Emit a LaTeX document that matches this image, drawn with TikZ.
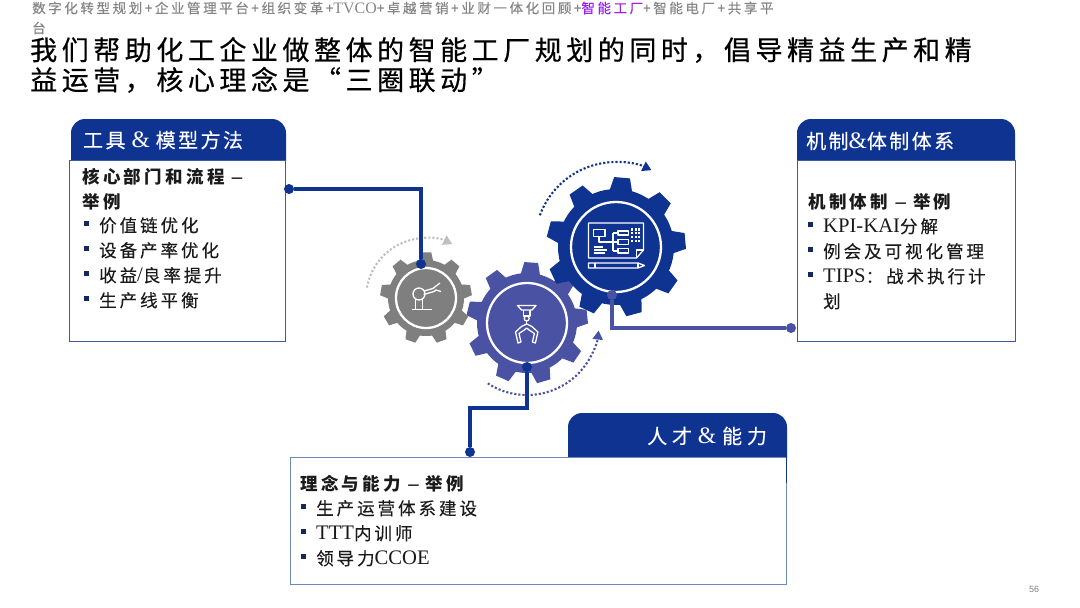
\documentclass[tikz,border=0pt]{standalone}
\usepackage{fontspec}
\usetikzlibrary{arrows.meta,positioning}
\setmainfont{Noto Sans CJK SC}
\newfontfamily\latf[Scale=1.18]{Liberation Serif}
\newfontfamily\numf{Liberation Sans}
\definecolor{navy}{HTML}{0F3391}
\definecolor{violet}{HTML}{4A52A3}
\definecolor{gearg}{HTML}{7F7F7F}
\definecolor{frameb}{HTML}{3B5C96}
\definecolor{framel}{HTML}{6F88BB}
\definecolor{crumbg}{HTML}{858585}
\definecolor{crumbp}{HTML}{9B1FE8}
\definecolor{inkb}{HTML}{1A1A1A}
\definecolor{bullb}{HTML}{14285F}
\newcommand{\bul}{\makebox[15pt][l]{\raisebox{5.5pt}{\textcolor{bullb}{\rule{5pt}{5pt}}}}}
\newcommand{\headtab}[4]{\fill[navy] (#1,#4) [rounded corners=14pt] -- (#1,#2) -- (#3,#2) [sharp corners] -- (#3,#4) -- cycle;}
\newcommand{\gearshape}[5]{%
  \fill[#1] (0,0) circle (#4pt);
  \foreach \k in {0,...,8} {
    \pgfmathsetmacro{\a}{#2+40*\k}
    \fill[#1] (\a-11.5:#4-1) -- (\a-6.5:#3) -- (\a+6.5:#3) -- (\a+11.5:#4-1) -- cycle;
  }
  \draw[white, line width=2.3pt] (0,0) circle (#5pt);
}
\begin{document}
\begin{tikzpicture}[
  x=1pt, y=1pt,
  box/.style={draw=frameb, fill=white, line width=0.9pt, anchor=north west, inner sep=0pt, outer sep=0pt},
  headtext/.style={text=white, anchor=west, inner sep=0pt, font=\fontsize{20}{24}\selectfont\addfontfeature{LetterSpace=12,FakeBold=0.3}},
  bodytext/.style={text=inkb, anchor=north west, inner sep=0pt, align=left, font=\fontsize{17.5}{25}\selectfont\addfontfeature{LetterSpace=17,FakeBold=0.15}},
  subtext/.style={bodytext, font=\fontsize{17.5}{25}\bfseries\selectfont\addfontfeature{LetterSpace=19}},
  dot/.style={circle, fill=#1, inner sep=0pt, minimum size=10pt},
  link/.style={line width=3.05pt, draw=navy},
  turn/.style={line width=2.1pt, dotted, -{Triangle[length=9pt,width=10pt]}},
  icon/.style={draw=white, line width=1.3pt, line join=round}
]
\useasboundingbox (0,0) rectangle (1080,-608);

\node[anchor=west, inner sep=0pt, text=crumbg, font=\fontsize{13.5}{16}\selectfont\addfontfeature{LetterSpace=19.2,FakeBold=0.3}] (crumb) at (32,-8)
  {数字化转型规划+企业管理平台+组织变革+{\latf TVCO}+卓越营销+业财一体化回顾+\textcolor{crumbp}{智能工厂}+智能电厂+共享平};
\node[anchor=west, inner sep=0pt, text=crumbg, font=\fontsize{13.5}{16}\selectfont\addfontfeature{FakeBold=0.3}] (crumbb) at (32,-28) {台};
\node[anchor=west, inner sep=0pt, align=left, text=black, font=\fontsize{27}{30}\selectfont\addfontfeature{LetterSpace=16.8,FakeBold=0.5}] (title) at (30,-65)
  {我们帮助化工企业做整体的智能工厂规划的同时，倡导精益生产和精\\益运营，核心理念是“三圈联动”};

\headtab{71}{-119}{286}{-161}
\node[box, minimum width=216pt, minimum height=181pt] (toolbox) at (69.5,-160) {};
\node[headtext] (toolhead) at (83,-140) {工具{\latf\ \&\ }模型方法};
\node[subtext] (toolsub) at (82,-168) {核心部门和流程 {\latf –}\\举例};
\node[bodytext] (toollist) at (84,-217) {\bul 价值链优化\\\bul 设备产率优化\\\bul 收益{\latf /}良率提升\\\bul 生产线平衡};

\headtab{797}{-119}{1015}{-162}
\node[box, minimum width=218pt, minimum height=181pt] (mechbox) at (797,-160.5) {};
\node[headtext] (mechhead) at (806,-141) {机制{\latf\&}体制体系};
\node[subtext] (mechsub) at (808,-193) {机制体制 {\latf –} 举例};
\node[bodytext] (mechlist) at (808,-218) {\bul {\latf KPI-KAI}分解\\\bul 例会及可视化管理\\\bul {\latf TIPS}：战术执行计\\\hspace*{15pt}划};

\headtab{568}{-413}{787}{-458}
\node[box, draw=framel, minimum width=496pt, minimum height=127pt] (talentbox) at (290,-457) {};
\draw[navy, line width=1pt] (786.5,-457) -- (786.5,-483);
\node[headtext, font=\fontsize{20}{24}\selectfont\addfontfeature{LetterSpace=24,FakeBold=0.3}] (talenthead) at (647,-436) {人才{\latf\ \&\ }能力};
\node[subtext] (talentsub) at (300,-475) {理念与能力 {\latf –} 举例};
\node[bodytext] (talentlist) at (301,-500) {\bul 生产运营体系建设\\\bul {\latf TTT}内训师\\\bul 领导力{\latf CCOE}};

\coordinate (gearsmall) at (426,-298);
\coordinate (gearmid) at (527,-323);
\coordinate (gearbig) at (616,-247);

\begin{scope}[shift={(gearsmall)}]
  \gearshape{gearg}{90}{46}{38}{30}
  \draw[icon] (-14,-11.5) -- (6,-11.5);
  \draw[icon] (-10.5,-11.5) -- (-10.5,-1) (-3.5,-11.5) -- (-3.5,-1);
  \draw[icon] (-7,4) circle (6pt);
  \draw[icon] (-2,7) -- (7,9.5) (-2.5,3.5) -- (8,6.5);
  \draw[icon] (8,6.5) -- (10,8) -- (15,6.5) (7,9.5) -- (10,12) -- (14,15);
\end{scope}

\begin{scope}[shift={(gearmid)}]
  \gearshape{violet}{86}{61}{50}{40}
  \draw[icon] (-9.5,17.5) -- (9,17.5) -- (5,13) -- (-5.5,13) -- cycle;
  \draw[icon] (-3.5,13) -- (-3.5,7) -- (3,7) -- (3,13);
  \draw[icon] (-0.3,4.5) circle (2.5pt);
  \draw[icon] (-0.3,2) -- (-0.3,-1);
  \draw[icon] (-0.3,-1) -- (-5.5,-3.5) -- (-11.5,-9) -- (-9,-20) -- (-6,-19) -- (-8,-10.5) -- (-2.7,-7) -- (-0.3,-5) -- (2.1,-7) -- (7.4,-10.5) -- (5.4,-19) -- (8.4,-20) -- (10.9,-9) -- (4.9,-3.5) -- cycle;
\end{scope}

\begin{scope}[shift={(gearbig)}]
  \gearshape{navy}{85}{70}{58}{45}
  \draw[icon] (-27.5,24) -- (27.5,24) -- (27.5,-3) -- (20.5,-11) -- (-27.5,-11) -- cycle;
  \draw[icon] (27.5,-3) -- (20.5,-3) -- (20.5,-11);
  \draw[icon] (-22.5,17.5) rectangle (-11,10.5);
  \draw[icon] (2,16) rectangle (12.5,12) (2,7.5) rectangle (12.5,2.5) (2,-1.5) rectangle (12.5,-6);
  \draw[icon] (-17,10.5) -- (-17,5) -- (-3,5) (-3,14) -- (-3,-4) (-3,14) -- (2,14) (-3,5) -- (2,5) (-3,-4) -- (2,-4);
  \draw[icon] (-22.5,0) -- (-13,0) (-22.5,-3) -- (-9,-3) (-22.5,-6) -- (-11,-6);
  \foreach \i in {0,1,2} \foreach \j in {0,1,2,3} \fill[white] (16+3.6*\i-1,17.5-3.9*\j-1) rectangle ++(2.2,2.2);
  \draw[icon] (-27.5,-16) -- (22,-16) -- (28.5,-18.5) -- (22,-21) -- (-27.5,-21) -- cycle;
  \draw[icon] (-21,-16) -- (-21,-21) (22,-16) -- (22,-21);
\end{scope}

\draw[turn, draw=gearg!50] (gearsmall) ++(170:60pt) arc[start angle=170, end angle=64, radius=60pt];
\draw[turn, draw=navy] (616,-243) ++(160:81pt) arc[start angle=160, end angle=64, radius=81pt];
\draw[turn, draw=violet] (gearmid) ++(237:72pt) arc[start angle=237, end angle=354, radius=72pt];

\node[dot=navy] (dottool) at (289,-189) {};
\node[dot=navy] (dotsmall) at (421,-264) {};
\node[dot=violet] (dotbig) at (612,-295) {};
\node[dot=violet] (dotmech) at (791,-328) {};
\node[dot=navy] (dotmid) at (527,-367) {};
\node[dot=navy] (dottalent) at (470,-452) {};
\coordinate (bendtalent) at (470,-408);

\draw[link] (dottool) -| (dotsmall);
\draw[link, draw=violet] (dotbig) |- (dotmech);
\draw[link] (dotmid) |- (bendtalent) -- (dottalent);

\node[text=gray, inner sep=0pt, font=\numf\fontsize{9}{11}\selectfont] (pagenum) at (1034,-589) {56};
\end{tikzpicture}
\end{document}
